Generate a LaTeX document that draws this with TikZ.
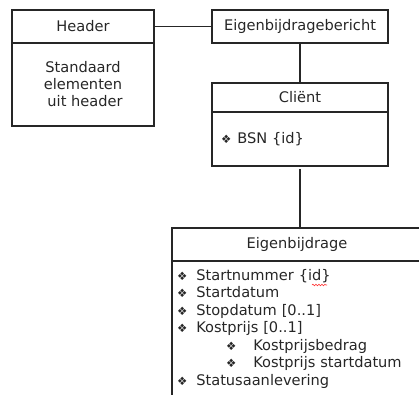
\documentclass[tikz,border=0pt]{standalone}
\usepackage{fontspec}
\setmainfont{DejaVu Sans}
\usetikzlibrary{positioning}
\usetikzlibrary{decorations.pathmorphing}
\colorlet{umlline}{black!85}
\colorlet{umltext}{black!85}
\tikzstyle{class_title}=[draw=umlline, line width=1.1pt, text=umltext, inner sep=0pt, outer sep=0pt]
\tikzstyle{class_body}=[draw=umlline, line width=1.1pt, text=umltext, inner sep=0pt, outer sep=0pt]
\tikzstyle{connect}=[line width=1.1pt, umlline]
\newcommand{\attrmark}{{\fontsize{11.5}{11.5}\selectfont ❖}}

\begin{document}
\begin{tikzpicture}[
    x=1pt, y=1pt,
    font=\fontsize{14.6}{17.5}\selectfont]
\useasboundingbox (0,0) rectangle (419,-394);

% header block
\node[class_title, minimum width=142pt, minimum height=33pt, anchor=north west] (header) at (12,-10) {Header};
\node[class_body, minimum width=142pt, minimum height=83pt, below=0pt of header, align=center] (headerbody) {Standaard\\[-0.5pt]elementen\\[-0.5pt]\hspace*{4pt}uit header};

% message and client
\node[class_title, minimum width=176pt, minimum height=33pt, right=58pt of header] (bericht) {Eigenbijdragebericht};
\node[class_title, minimum width=176pt, minimum height=29pt, below=40pt of bericht] (client) {Cliënt};
\node[class_body, minimum width=176pt, minimum height=54pt, below=0pt of client, text width=158pt, inner xsep=9pt, align=left] (clientbody) {\attrmark\hspace{6pt}BSN \{id\}};

% eigenbijdrage
\node[class_title, minimum width=250pt, minimum height=33pt, anchor=north west] (eigen) at (172,-228) {Eigenbijdrage};
\node[class_body, below=0pt of eigen, text width=240pt, inner xsep=5pt, inner ysep=8pt, align=left] (eigenbody) {%
    \attrmark\hspace{9pt}Startnummer \{id\}\\
    \attrmark\hspace{9pt}Startdatum\\
    \attrmark\hspace{9pt}Stopdatum [0..1]\\
    \attrmark\hspace{9pt}Kostprijs [0..1]\\
    \hspace*{49pt}\attrmark\hspace{17pt}Kostprijsbedrag\\
    \hspace*{49pt}\attrmark\hspace{17pt}Kostprijs startdatum\\
    \attrmark\hspace{9pt}Statusaanlevering\\[12pt]\mbox{}};

\begin{scope}[connect]
    \draw (header.east) -- (bericht.west);
    \draw (bericht.south) -- (client.north);
    \draw[shorten <=3pt] (clientbody.south) -- (clientbody.south |- eigen.north);
\end{scope}

% spell check mark
\draw[red!80, line width=0.6pt, decorate, decoration={snake, amplitude=0.8pt, segment length=3pt}] ([shift={(140,-24)}]eigenbody.north west) -- ++(15,0);

\end{tikzpicture}
\end{document}
